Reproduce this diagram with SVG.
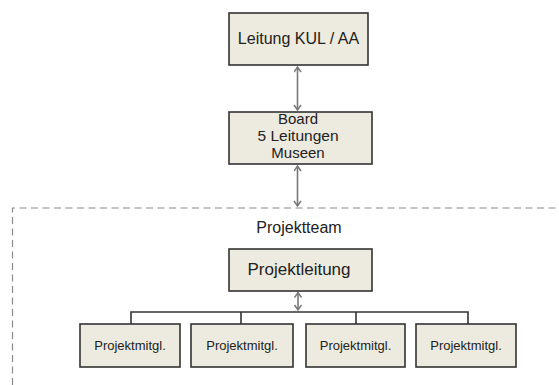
<svg xmlns="http://www.w3.org/2000/svg" width="559" height="385" viewBox="0 0 559 385">
<defs>
<style>
.box{fill:#EDEADF;stroke:#333;stroke-width:1.6}
.t{font-family:"Liberation Sans",Arial,sans-serif;fill:#222;text-anchor:middle}
.arr{stroke:#777;stroke-width:1.6;fill:none;marker-start:url(#ah);marker-end:url(#ah)}
.bus{stroke:#333;stroke-width:1.6;fill:none}
.dash{stroke:#8a8a8a;stroke-width:1.2;fill:none;stroke-dasharray:7 4.5}
</style>
<marker id="ah" markerUnits="userSpaceOnUse" markerWidth="10" markerHeight="10" refX="6" refY="4" orient="auto-start-reverse">
<path d="M1,0.5 L6,4 L1,7.5" fill="none" stroke="#777" stroke-width="1.5"/>
</marker>
</defs>
<rect width="559" height="385" fill="#fff"/>
<g id="projektteam-frame">
<path class="dash" d="M12.5,385 V208 H559"/>
<text class="t" x="299" y="233" font-size="16">Projektteam</text>
</g>
<g id="connectors">
<line class="arr" x1="297.5" y1="67" x2="297.5" y2="110"/>
<line class="arr" x1="297.5" y1="166" x2="297.5" y2="206"/>
<line class="arr" x1="298" y1="292.5" x2="298" y2="310"/>
<path class="bus" d="M131,324 V312 H468 V324 M241,312 V324 M356,312 V324"/>
</g>
<g id="leitung">
<rect class="box" x="229" y="13" width="139" height="52"/>
<text class="t" x="298.5" y="44" font-size="16">Leitung KUL / AA</text>
</g>
<g id="board">
<rect class="box" x="229" y="112" width="143" height="52"/>
<text class="t" x="298" y="124" font-size="15">Board</text>
<text class="t" x="298" y="141" font-size="15.5">5 Leitungen</text>
<text class="t" x="298" y="158" font-size="15">Museen</text>
</g>
<g id="projektleitung">
<rect class="box" x="229" y="249" width="143" height="42"/>
<text class="t" x="299" y="275" font-size="17">Projektleitung</text>
</g>
<g id="mitgl1">
<rect class="box" x="80" y="324" width="100" height="43"/>
<text class="t" x="130" y="350" font-size="13">Projektmitgl.</text>
</g>
<g id="mitgl2">
<rect class="box" x="191" y="324" width="102" height="43"/>
<text class="t" x="242" y="350" font-size="13">Projektmitgl.</text>
</g>
<g id="mitgl3">
<rect class="box" x="306" y="324" width="99" height="43"/>
<text class="t" x="355.5" y="350" font-size="13">Projektmitgl.</text>
</g>
<g id="mitgl4">
<rect class="box" x="416" y="324" width="100" height="43"/>
<text class="t" x="466" y="350" font-size="13">Projektmitgl.</text>
</g>
</svg>
